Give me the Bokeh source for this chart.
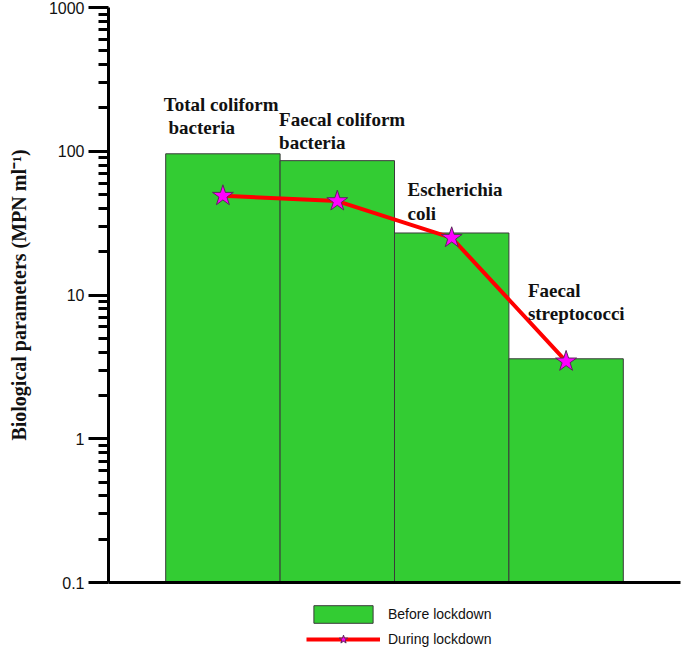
from bokeh.plotting import figure
from bokeh.layouts import column
from bokeh.models import (ColumnDataSource, FixedTicker, Legend, LegendItem, Range1d)
from bokeh.core.properties import value
from bokeh.embed import file_html
from bokeh.resources import INLINE

# ---- data ----
categories = ["Total coliform\n\u00a0bacteria", "Faecal coliform\nbacteria", "Escherichia\ncoli", "Faecal\nstreptococci"]
before_lockdown = [96, 86, 27, 3.6]
during_lockdown = [49, 45, 25, 3.45]
y_major_ticks = [0.1, 1, 10, 100, 1000]
y_tick_labels = ["0.1", "1", "10", "100", "1000"]
legend_labels = ["Before lockdown", "During lockdown"]

# ---- styles / label placement (pixels) ----
label_dx = [-2, -1, 13, 19]
label_dy = [-60, -52, -54, -79]
BAR_FILL, BAR_LINE = "#33CC33", "#3a3a3a"
LINE_COLOR = "#FF0000"
STAR_FILL, STAR_LINE = "#FF00FF", "#5a2a5a"

idx = list(range(len(categories)))
left_edges = [i - 0.5 for i in idx]
minor = [m * 10.0 ** e for e in range(-1, 3) for m in range(2, 10)]

src = ColumnDataSource(dict(x=idx, top=before_lockdown, during=during_lockdown,
                            lx=left_edges, label=categories, dx=label_dx, dy=label_dy))

p = figure(width=681, height=590, y_axis_type="log", output_backend="svg",
           toolbar_location=None, x_range=Range1d(-1, 4), y_range=Range1d(0.1, 1000),
           min_border_left=108, min_border_right=1, min_border_top=7, min_border_bottom=8)
p.outline_line_color = None
p.xgrid.visible = False
p.ygrid.visible = False

p.vbar(x="x", top="top", bottom=0.1, width=1.0, source=src,
       fill_color=BAR_FILL, line_color=BAR_LINE, line_width=1)
p.line(x="x", y="during", source=src, line_color=LINE_COLOR, line_width=4)
p.scatter(x="x", y="during", source=src, marker="star", size=22,
          fill_color=STAR_FILL, line_color=STAR_LINE, line_width=1)

p.text(x="lx", y="top", text="label", source=src, x_offset="dx", y_offset="dy",
       text_font=value("Liberation Serif"), text_font_style="bold",
       text_font_size="19px", text_color="#111111", text_align="left",
       text_baseline="top", text_line_height=1.12)

# y axis
ya = p.yaxis[0]
ya.ticker = FixedTicker(ticks=y_major_ticks, minor_ticks=minor)
ya.major_label_overrides = {t: l for t, l in zip(y_major_ticks, y_tick_labels)}
ya.major_tick_out = 20
ya.major_tick_in = 0
ya.minor_tick_out = 10
ya.minor_tick_in = 0
ya.axis_line_width = 3
ya.major_tick_line_width = 3
ya.minor_tick_line_width = 3
ya.axis_line_color = "black"
ya.major_label_standoff = 4
ya.major_label_text_font = "Liberation Sans"
ya.major_label_text_font_size = "16px"
ya.major_label_text_color = "#111111"
ya.axis_label = "Biological parameters (MPN ml\u207b\u00b9)"
ya.axis_label_text_font = "Liberation Serif"
ya.axis_label_text_font_style = "bold"
ya.axis_label_text_font_size = "20px"
ya.axis_label_text_color = "#111111"
ya.axis_label_standoff = 16

# x axis: line only
xa = p.xaxis[0]
xa.ticker = FixedTicker(ticks=[])
xa.axis_line_width = 3
xa.major_tick_line_color = None
xa.minor_tick_line_color = None
xa.major_tick_out = 0
xa.major_tick_in = 0
xa.minor_tick_out = 0
xa.major_label_standoff = 0
xa.major_label_text_font_size = "0px"

# ---- legend strip below the chart (hidden proxy renderers, legend only) ----
lg = figure(width=681, height=60, output_backend="svg", toolbar_location=None,
            x_range=Range1d(0, 1), y_range=Range1d(0, 1),
            x_axis_location=None, y_axis_location=None,
            min_border_left=0, min_border_right=0, min_border_top=0, min_border_bottom=0)
lg.outline_line_color = None
lg.xgrid.visible = False
lg.ygrid.visible = False
lb = lg.vbar(x="x", top="top", width=1, source=src, fill_color=BAR_FILL,
             line_color=BAR_LINE, line_width=1, visible=False)
ll = lg.line(x="x", y="during", source=src, line_color=LINE_COLOR, line_width=4, visible=False)
ls = lg.scatter(x="x", y="during", source=src, marker="star", size=22, fill_color=STAR_FILL,
                line_color=STAR_LINE, line_width=1, visible=False)
legend = Legend(items=[LegendItem(label=legend_labels[0], renderers=[lb]),
                       LegendItem(label=legend_labels[1], renderers=[ll, ls])],
                location=(198, 0), orientation="vertical",
                glyph_width=74, glyph_height=22, label_height=20, spacing=3,
                padding=0, margin=0, label_standoff=8,
                label_text_font="Liberation Sans", label_text_font_size="14px",
                label_text_color="#111111", inactive_fill_alpha=0,
                border_line_color=None, background_fill_alpha=0)
lg.add_layout(legend, "center")

open("out.html", "w").write(file_html(column(p, lg, spacing=0), INLINE))
